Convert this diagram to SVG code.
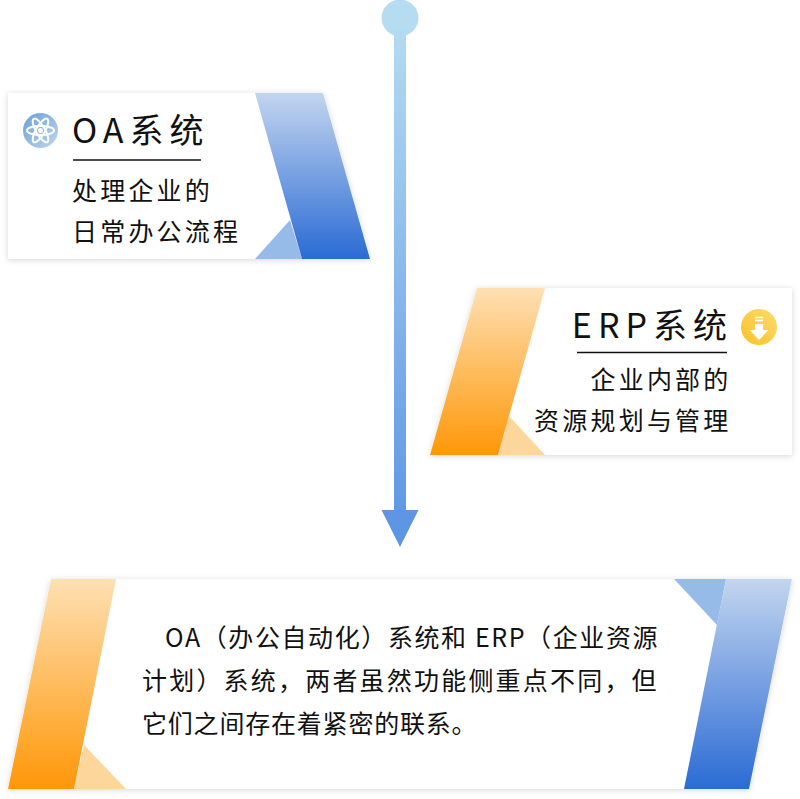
<svg xmlns="http://www.w3.org/2000/svg" width="800" height="799" viewBox="0 0 800 799">
<style>
text{font-family:"Noto Sans CJK SC","Noto Sans",sans-serif;fill:#111}
.t{font-size:34px;font-weight:400;letter-spacing:6px}
.s{font-size:25px;font-weight:400;letter-spacing:3.2px}
.b{font-size:25px;font-weight:400}
.r{text-anchor:end}
.card{fill:#fff;filter:url(#sh)}
.rule{stroke:#111;stroke-width:1.5}
</style>
<defs>
<filter id="sh" x="-5%" y="-10%" width="110%" height="120%"><feDropShadow dx="0" dy="1" stdDeviation="3" flood-color="#000" flood-opacity=".16"/></filter>
<linearGradient id="bl" x1="0" y1="0" x2="0" y2="1"><stop offset="0" stop-color="#c3d5ef"/><stop offset="1" stop-color="#2a6bd4"/></linearGradient>
<linearGradient id="or" x1="0" y1="0" x2="0" y2="1"><stop offset="0" stop-color="#fee0b3"/><stop offset="1" stop-color="#ff9708"/></linearGradient>
<linearGradient id="sp" gradientUnits="userSpaceOnUse" x1="0" y1="18" x2="0" y2="530"><stop offset="0" stop-color="#b6dcf2"/><stop offset="1" stop-color="#5e96e4"/></linearGradient>
<linearGradient id="ib" x1="0" y1="0" x2="1" y2="1"><stop offset="0" stop-color="#6a9fd8"/><stop offset="1" stop-color="#c0d6ee"/></linearGradient>
<linearGradient id="iy" x1="0" y1="1" x2="1" y2="0"><stop offset="0" stop-color="#fcc026"/><stop offset="1" stop-color="#fddb70"/></linearGradient>
</defs>
<g id="connectors">
<circle cx="400" cy="18" r="18.5" fill="#b6dcf2"/>
<rect x="394" y="30" width="12" height="482" fill="url(#sp)"/>
<polygon points="381.500,510 418.500,510 400,547" fill="#5e96e4"/>
</g>
<g id="node-oa">
<polygon class="card" points="8,93 323,93 370,259 8,259"/>
<polygon points="255,259 302,259 290,220" fill="#97bbe9"/>
<polygon points="255,93 323,93 370,259 302,259" fill="url(#bl)"/>
<circle cx="40.500" cy="130.500" r="17.500" fill="url(#ib)"/>
<g fill="none" stroke="#fff" stroke-width="2"><ellipse cx="40.500" cy="130.500" rx="13.500" ry="4.500"/><ellipse cx="40.500" cy="130.500" rx="13.500" ry="4.500" transform="rotate(60 40.500 130.500)"/><ellipse cx="40.500" cy="130.500" rx="13.500" ry="4.500" transform="rotate(-60 40.500 130.500)"/></g>
<circle cx="40.500" cy="130.500" r="2.500" fill="#fff"/>
<text class="t" x="72" y="142.500">OA系统</text>
<line class="rule" x1="73" y1="160" x2="201" y2="160"/>
<text class="s" x="72" y="200">处理企业的</text>
<text class="s" x="72" y="241">日常办公流程</text>
</g>
<g id="node-erp">
<polygon class="card" points="477,288 792,288 792,455 430,455"/>
<polygon points="498,455 545,455 509,416" fill="#fcd69b"/>
<polygon points="477,288 545,288 498,455 430,455" fill="url(#or)"/>
<circle cx="759" cy="327" r="18" fill="url(#iy)"/>
<path d="M755 324h8v6h5.500l-9.500 10-9.500-10h5.500z" fill="#fff"/>
<path d="M755 317.500h8M755 320.500h8" stroke="#fff" stroke-width="1.500"/>
<text class="t r" x="733" y="337.500">ERP系统</text>
<line class="rule" x1="577" y1="352.500" x2="727" y2="352.500"/>
<text class="s r" x="731.500" y="389">企业内部的</text>
<text class="s r" x="731.500" y="430">资源规划与管理</text>
</g>
<g id="node-summary">
<polygon class="card" points="51,579 792,579 749,789 8,789"/>
<polygon points="74,789 126,789 84,745" fill="#fcd69b"/>
<polygon points="51,579 116,579 74,789 8,789" fill="url(#or)"/>
<polygon points="674,579 726,579 717,625" fill="#97bbe9"/>
<polygon points="726,579 792,579 749,789 684,789" fill="url(#bl)"/>
<text class="b" x="165" y="647" letter-spacing="1.6">OA（办公自动化）系统和 ERP（企业资源</text>
<text class="b" x="142" y="690" letter-spacing="2.2">计划）系统，两者虽然功能侧重点不同，但</text>
<text class="b" x="142" y="733" letter-spacing="0.8">它们之间存在着紧密的联系。</text>
</g>
</svg>
